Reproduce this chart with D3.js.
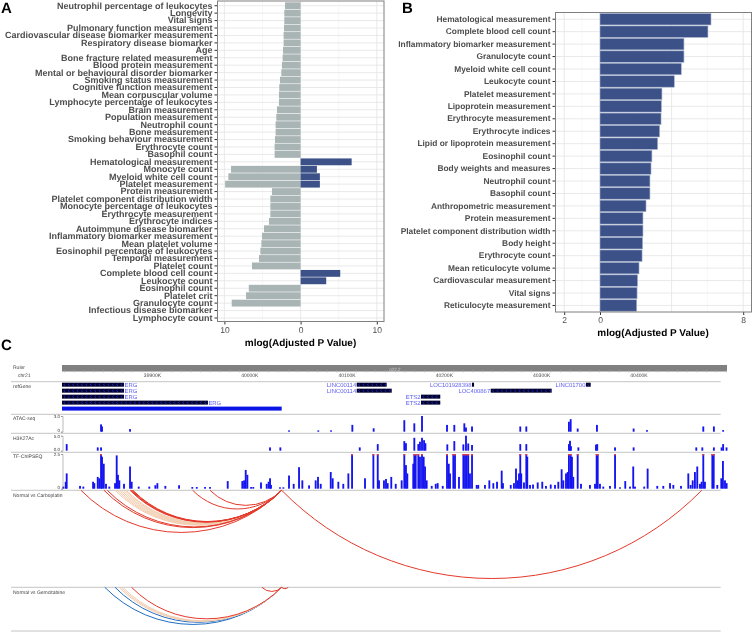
<!DOCTYPE html>
<html>
<head>
<meta charset="utf-8">
<script src="https://cdn.jsdelivr.net/npm/d3@7"></script>
<style>
  html, body { margin: 0; padding: 0; background: #fff; }
  text { font-family: "Liberation Sans", Arial, sans-serif; text-rendering: geometricPrecision; }
  svg { filter: blur(0.35px); }
</style>
</head>
<body>
<div id="chart"></div>
<script>
// Panel A
const termsA = ['Neutrophil percentage of leukocytes', 'Longevity', 'Vital signs', 'Pulmonary function measurement',
  'Cardiovascular disease biomarker measurement', 'Respiratory disease biomarker', 'Age', 'Bone fracture related measurement',
  'Blood protein measurement', 'Mental or behavioural disorder biomarker', 'Smoking status measurement', 'Cognitive function measurement',
  'Mean corpuscular volume', 'Lymphocyte percentage of leukocytes', 'Brain measurement', 'Population measurement', 'Neutrophil count',
  'Bone measurement', 'Smoking behaviour measurement', 'Erythrocyte count', 'Basophil count', 'Hematological measurement',
  'Monocyte count', 'Myeloid white cell count', 'Platelet measurement', 'Protein measurement', 'Platelet component distribution width',
  'Monocyte percentage of leukocytes', 'Erythrocyte measurement', 'Erythrocyte indices', 'Autoimmune disease biomarker',
  'Inflammatory biomarker measurement', 'Mean platelet volume', 'Eosinophil percentage of leukocytes', 'Temporal measurement',
  'Platelet count', 'Complete blood cell count', 'Leukocyte count', 'Eosinophil count', 'Platelet crit', 'Granulocyte count',
  'Infectious disease biomarker', 'Lymphocyte count'];
const downA = [2.05, 2.14, 2.14, 2.18, 2.23, 2.23, 2.31, 2.36, 2.45, 2.53, 2.7, 2.8, 2.84, 2.84, 3.1, 3.19, 3.28, 3.28, 3.36, 3.41, 3.41,
  0, 9.13, 9.48, 9.9, 3.76, 3.97, 3.97, 3.97, 4.15, 4.8, 5.07, 5.15, 5.28, 5.46, 6.38, 0, 0, 6.8, 7.16, 9.04, 0, 0];
const upA = [0, 0, 0, 0, 0, 0, 0, 0, 0, 0, 0, 0, 0, 0, 0, 0, 0, 0, 0, 0, 0,
  6.7, 2.14, 2.53, 2.53, 0, 0, 0, 0, 0, 0, 0, 0, 0, 0, 0, 5.2, 3.36, 0, 0, 0, 0, 0];

// Panel B
const termsB = ['Hematological measurement', 'Complete blood cell count', 'Inflammatory biomarker measurement', 'Granulocyte count',
  'Myeloid white cell count', 'Leukocyte count', 'Platelet measurement', 'Lipoprotein measurement', 'Erythrocyte measurement',
  'Erythrocyte indices', 'Lipid or lipoprotein measurement', 'Eosinophil count', 'Body weights and measures', 'Neutrophil count',
  'Basophil count', 'Anthropometric measurement', 'Protein measurement', 'Platelet component distribution width', 'Body height',
  'Erythrocyte count', 'Mean reticulocyte volume', 'Cardiovascular measurement', 'Vital signs', 'Reticulocyte measurement'];
const valuesB = [6.2, 6.03, 4.69, 4.69, 4.54, 4.15, 3.46, 3.43, 3.41, 3.33, 3.22, 2.9, 2.85, 2.79, 2.79, 2.57, 2.4, 2.4, 2.38, 2.35, 2.18, 2.1, 2.07, 2.05];

// Panel C, positions in kb on chr21
const geneNames = ['ERG', 'ERG', 'ERG', 'ERG', '', 'LINC00114', 'LINC00114', 'ETS2', 'ETS2', 'LOC101928398', 'LOC400867', 'LINC01700'];
const geneStarts = [39807.5, 39807.5, 39807.5, 39807.5, 39807.5, 40110.4, 40110.4, 40176.5, 40176.5, 40228.9, 40248.1, 40346];
const geneEnds = [39871.2, 39871.2, 39871.2, 39957.5, 40033.3, 40141.2, 40146.4, 40196.3, 40196.3, 40231, 40310.8, 40350.9];
const geneRows = [0, 1, 2, 3, 4, 0, 1, 2, 3, 0, 1, 0];

const atacPos = [39847.6, 39848.6, 39877.4, 40040.8, 40070.9, 40084, 40105.9, 40127.8, 40159.3, 40169.6, 40177.5, 40203.2, 40210.7, 40221,
  40222.7, 40228.9, 40278.5, 40284.7, 40328.5, 40330.3, 40337.5, 40357.3, 40395, 40408.7, 40466.6, 40477.5, 40487];
const atacVal = [1.4, 1, 0.5, 0.25, 0.25, 0.25, 1.3, 0.65, 2.2, 1.6, 3, 1.3, 1.3, 1.6, 0.8, 1, 1, 1, 1.9, 2.4, 0.6, 1.3, 0.6, 0.3, 1, 1, 0.3];

const h3k27Pos = [39812.3, 39844.2, 39847.6, 40021.3, 40031.9, 40113.5, 40132, 40159.3, 40161, 40169.6, 40173.7, 40175.4, 40177.5, 40179.6,
  40181, 40203.5, 40210.7, 40220, 40222.7, 40225, 40228.9, 40278.5, 40284.7, 40328.5, 40329.6, 40330.6, 40338.2, 40356.3, 40357.6, 40375.9,
  40395, 40459.4, 40465.6, 40477.5, 40485.4, 40487, 40490.5];
const h3k27Val = [2.2, 1.1, 1.1, 1.1, 1.1, 1.1, 2.2, 3.2, 2.5, 4.3, 2.2, 3, 4.3, 3.5, 2.5, 2.1, 3.2, 2.1, 5, 2.4, 1.9, 2.2, 2.2, 2.2, 3.3, 1.5,
  1.1, 2, 2.2, 1.1, 1.1, 1.1, 1.1, 1.1, 1.1, 2.2, 1.1];

const chipPos = [39808.9, 39811.3, 39812.3, 39826, 39829.4, 39839.4, 39840.7, 39844.2, 39845.8, 39847.6, 39848.6, 39850.4, 39852.7, 39856.1,
  39862, 39863.7, 39865, 39866.4, 39871.2, 39877.4, 39879.1, 39886.3, 39897.2, 39903.4, 39905.5, 39913.7, 39927.8, 39941.4, 39946, 39954.5,
  39959.6, 39977.8, 39992.8, 39994.6, 39996.3, 39998, 40001.8, 40004.1, 40012, 40017.9, 40019.9, 40021.3, 40022.3, 40031.5, 40035, 40040.8,
  40045.6, 40051.1, 40054.5, 40061.4, 40068.2, 40070.6, 40073.4, 40083.7, 40085.7, 40091.5, 40096.6, 40101.8, 40105.6, 40118.9, 40127.5,
  40132, 40133.3, 40138.4, 40140.5, 40142.2, 40145.9, 40150.5, 40156.6, 40159.3, 40161, 40162.4, 40168.5, 40169.6, 40171, 40173.7, 40175.4,
  40177.5, 40179.2, 40180.6, 40182.3, 40187.5, 40191.6, 40193.6, 40198.8, 40203.2, 40205, 40206.3, 40209.7, 40211.4, 40215.5, 40220, 40221.7,
  40223.4, 40225, 40226.8, 40228.9, 40233.7, 40235.3, 40242.2, 40246.7, 40250.8, 40254.6, 40259.4, 40260.7, 40268.7, 40272, 40274.1, 40275.8,
  40277.2, 40278.5, 40279.5, 40282.3, 40284.7, 40285.7, 40288.5, 40291.6, 40296.4, 40301.1, 40304.9, 40309.8, 40314.2, 40317.6, 40321,
  40322.7, 40325.5, 40327.2, 40328.5, 40330.3, 40331.6, 40333, 40337.5, 40340.9, 40350.1, 40355.3, 40357, 40358.1, 40360.4, 40363.8, 40370.7,
  40375.9, 40381, 40386.4, 40391.3, 40394.6, 40396.4, 40405.9, 40409.4, 40419.3, 40425.5, 40432.4, 40435.8, 40443.7, 40451.2, 40453.6,
  40455.7, 40458, 40460.4, 40463.2, 40464.9, 40466.6, 40468.3, 40475.9, 40477.3, 40481, 40485.1, 40486.8, 40488.9, 40490.6];
const chipVal = [0.15, 0.5, 1.1, 0.2, 0.15, 0.5, 0.4, 0.85, 0.75, 2.5, 2.3, 1.8, 0.35, 0.15,
  0.4, 2.4, 1, 0.6, 0.35, 1.6, 0.5, 0.15, 0.15, 0.25, 0.4, 0.2, 0.25, 0.12, 0.12, 0.12,
  0.12, 0.55, 0.55, 0.6, 1.35, 1, 0.12, 0.12, 0.45, 0.35, 0.5, 0.75, 0.27, 0.1, 0.1, 0.95,
  0.35, 1.55, 0.6, 0.24, 0.6, 0.85, 0.35, 1.2, 0.75, 0.5, 0.35, 1.1, 2.5, 0.75, 2.5,
  2.5, 0.6, 0.6, 0.7, 0.4, 0.85, 0.35, 0.6, 2.5, 1.7, 1.1, 1.8, 2.5, 2.5, 2.5, 2.3,
  2.5, 2.3, 1.6, 0.6, 0.2, 0.35, 0.4, 0.2, 2.5, 1.8, 1.1, 2.5, 2.5, 0.85, 2.5, 2.5,
  2.5, 2.5, 1.1, 2.5, 0.27, 0.27, 0.27, 0.6, 0.4, 0.5, 1.3, 0.4, 0.27, 0.4, 1.45, 0.6,
  1.1, 2.5, 1.1, 0.45, 2.5, 2.3, 0.27, 0.3, 0.45, 0.5, 0.2, 0.3, 0.27, 0.5, 1.4,
  0.6, 1.1, 1.2, 2.5, 2.5, 2.3, 0.85, 2.5, 0.35, 0.27, 0.35, 2.5, 2.5, 0.35, 0.15, 0.2,
  2.5, 0.1, 0.55, 0.15, 1.6, 0.15, 0.15, 1.45, 0.2, 0.2, 0.4, 0.27, 0.2, 1.1, 0.27,
  0.6, 1.2, 1.6, 0.35, 0.5, 2.5, 0.5, 2.5, 2.5, 0.27, 0.75, 2, 0.6, 0.4];

// arcs: left end, right end, score (above 0.5 red, below 0.5 tan, negative blue)
const carboFrom = [39827, 39850.7, 39854, 39862, 39864, 39866, 39868, 39870, 39872, 39873.5, 39877.4, 39878.4, 39879.4, 39880.4, 39941.8, 39959.6, 40033.3];
const carboTo = [40033.3, 40033.3, 40033.3, 40033.3, 40033.3, 40033.3, 40033.3, 40033.3, 40033.3, 40033.3, 40033.3, 40033.3, 40033.3, 40033.3, 40033.3, 40033.3, 40465];
const carboScore = [1, 1, 1, 0.3, 0.3, 0.3, 0.3, 0.3, 0.3, 0.3, 1, 1, 1, 1, 1, 1, 1];
const gemFrom = [39851.5, 39862, 39866, 39868, 39870, 39879, 40013, 40033.3];
const gemTo = [40033.3, 40033.3, 40033.3, 40033.3, 40033.3, 40033.3, 40033.3, 40040];
const gemScore = [-1, -1, 0.3, 0.3, 0.3, 1, 1, 1];

const margin = { a: { left: 217.5, right: 384, top: 1, bottom: 321.5 }, b: { left: 555.5, right: 751.5, top: 12.5, bottom: 312 } };
const red = '#e4392a', tan = '#f2cdb0', blue = '#1e6cc0', navy = '#3b5188', grey = '#a9b4b5';

const svg = d3.select('#chart').append('svg').attr('width', 753).attr('height', 633).style('display', 'block');

function letter(t, x, y) {
  svg.append('text').attr('x', x).attr('y', y).attr('font-size', 15).attr('font-weight', 'bold').attr('fill', '#000').text(t);
}
letter('A', 1, 13);
letter('B', 402, 13);
letter('C', 1, 350);

// shared ggplot style frame for the two bar charts
function frame(m, x, y, terms, majors, minors, labelled, fontSize) {
  const g = svg.append('g');
  g.selectAll('.minor').data(minors).join('line')
    .attr('x1', d => x(d)).attr('x2', d => x(d)).attr('y1', m.top).attr('y2', m.bottom)
    .attr('stroke', '#f2f2f2').attr('stroke-width', 0.6);
  g.selectAll('.major').data(majors).join('line')
    .attr('x1', d => x(d)).attr('x2', d => x(d)).attr('y1', m.top).attr('y2', m.bottom)
    .attr('stroke', '#e6e6e6').attr('stroke-width', 0.9);
  g.selectAll('.row').data(terms).join('line')
    .attr('x1', m.left).attr('x2', m.right)
    .attr('y1', d => y(d) + y.bandwidth() / 2).attr('y2', d => y(d) + y.bandwidth() / 2)
    .attr('stroke', '#e6e6e6').attr('stroke-width', 0.9);

  const left = svg.append('g').attr('transform', `translate(${m.left},0)`).call(d3.axisLeft(y).tickSize(3).tickPadding(2));
  left.select('.domain').remove();
  left.selectAll('line').attr('stroke', '#333');
  left.selectAll('text').attr('font-size', fontSize).attr('font-weight', 'bold').attr('fill', '#4d4d4d')
    .attr('font-family', '"Liberation Sans", Arial, sans-serif');

  const bottom = svg.append('g').attr('transform', `translate(0,${m.bottom})`)
    .call(d3.axisBottom(x).tickValues(labelled).tickFormat(d => Math.abs(d)).tickSize(3).tickPadding(2));
  bottom.select('.domain').remove();
  bottom.selectAll('line').attr('stroke', '#333');
  bottom.selectAll('text').attr('font-size', 8.5).attr('fill', '#4d4d4d')
    .attr('font-family', '"Liberation Sans", Arial, sans-serif');
}

function border(m) {
  svg.append('rect').attr('x', m.left).attr('y', m.top).attr('width', m.right - m.left).attr('height', m.bottom - m.top)
    .attr('fill', 'none').attr('stroke', '#7f7f7f').attr('stroke-width', 1);
}

function axisTitle(x, y) {
  svg.append('text').attr('x', x).attr('y', y).attr('text-anchor', 'middle')
    .attr('font-size', 10).attr('font-weight', 'bold').attr('fill', '#000').text('mlog(Adjusted P Value)');
}

// Panel A chart
const xA = d3.scaleLinear().domain([-10, 10]).range([224.4, 376.8]);
const yA = d3.scaleBand().domain(termsA).range([2.3, 321.4]).paddingInner(0.08);
frame(margin.a, xA, yA, termsA, [-10, 0, 10], [-5, 5], [-10, 0, 10], 9);
svg.append('g').selectAll('rect').data(termsA).join('rect')
  .attr('x', (d, i) => xA(-downA[i])).attr('y', d => yA(d))
  .attr('width', (d, i) => xA(0) - xA(-downA[i])).attr('height', yA.bandwidth())
  .attr('fill', grey);
svg.append('g').selectAll('rect').data(termsA).join('rect')
  .attr('x', xA(0)).attr('y', d => yA(d))
  .attr('width', (d, i) => xA(upA[i]) - xA(0)).attr('height', yA.bandwidth())
  .attr('fill', navy);
border(margin.a);
axisTitle(300.5, 346);

// Panel B chart
const xB = d3.scaleLinear().domain([-2, 8]).range([564.2, 743.2]);
const yB = d3.scaleBand().domain(termsB).range([13.5, 311.2]).paddingInner(0.08);
frame(margin.b, xB, yB, termsB, [-2, 0, 4, 8], [-1, 2, 6], [-2, 0, 8], 8.4);
svg.append('g').selectAll('rect').data(termsB).join('rect')
  .attr('x', xB(0)).attr('y', d => yB(d))
  .attr('width', (d, i) => xB(valuesB[i]) - xB(0)).attr('height', yB.bandwidth())
  .attr('fill', navy).attr('stroke', '#a5b1cb').attr('stroke-width', 0.6);
border(margin.b);
axisTitle(653, 335.5);

// Panel C, browser view
const xC = d3.scaleLinear().domain([39807.5, 40491]).range([62, 727]);
const smallText = (t, x, y, anchor) => svg.append('text').attr('x', x).attr('y', y).attr('font-size', 5)
  .attr('text-anchor', anchor || 'start').attr('fill', '#444').text(t);

[381.7, 414.3, 433.3, 452.3, 490.3, 587.3, 631].forEach(y => {
  svg.append('line').attr('x1', 11).attr('x2', 720.7).attr('y1', y).attr('y2', y).attr('stroke', '#b5b5b5').attr('stroke-width', 0.8);
});

// ruler
svg.append('rect').attr('x', xC(39807.5)).attr('y', 365).attr('width', xC(40491) - xC(39807.5)).attr('height', 6.5).attr('fill', '#808080');
const ruler10 = d3.range(39810, 40491, 10);
svg.append('g').selectAll('line').data(ruler10).join('line')
  .attr('x1', d => xC(d)).attr('x2', d => xC(d)).attr('y1', 370).attr('y2', 372.5)
  .attr('stroke', '#aaa').attr('stroke-width', 0.5);
const rulerAxis = svg.append('g').attr('transform', 'translate(0,371.5)')
  .call(d3.axisBottom(xC).tickValues(d3.range(39900, 40401, 100)).tickFormat(d => d + 'K').tickSize(0).tickPadding(2));
rulerAxis.select('.domain').remove();
rulerAxis.selectAll('text').attr('font-size', 5).attr('fill', '#444').attr('font-family', '"Liberation Sans", Arial, sans-serif');
svg.append('text').attr('x', 395).attr('y', 370.5).attr('font-size', 4.5).attr('text-anchor', 'middle').attr('fill', '#c8c8c8').text('q22.2');
smallText('Ruler', 13, 369);
smallText('chr21', 18, 376.5);
smallText('refGene', 13, 388);
smallText('ATAC-seq', 13, 420);
smallText('H3K27Ac', 13, 439.5);
smallText('TF-ChIPSEQ', 13, 458);
smallText('Normal vs Carboplatin', 13, 497);
smallText('Normal vs Gemcitabine', 13, 593.5);

// genes
const yGene = d3.scaleLinear().domain([0, 4]).range([384.7, 408.6]);
geneNames.forEach((name, i) => {
  const g = svg.append('g');
  const x0 = xC(geneStarts[i]), x1 = xC(geneEnds[i]), y = yGene(geneRows[i]);
  g.append('rect').attr('x', x0).attr('y', y - 2).attr('width', x1 - x0).attr('height', 4)
    .attr('fill', name ? '#00002a' : '#0a14e6');
  if (name) {
    g.selectAll('path').data(d3.range(x0 + 2, x1 - 1, 4.4)).join('path')
      .attr('d', d => `M${d + 1},${y - 1.2}L${d},${y}L${d + 1},${y + 1.2}`)
      .attr('fill', 'none').attr('stroke', '#2a35ff').attr('stroke-width', 0.7);
    const right = name === 'ERG';
    g.append('text').attr('x', right ? x1 + 0.5 : x0 - 0.5).attr('y', y + 2.2)
      .attr('text-anchor', right ? 'start' : 'end').attr('font-size', 5.9).attr('fill', '#5a5af0').text(name);
  }
});

// signal tracks
function track(pos, val, maxV, top, base, topLabel, lowLabel, caps) {
  const y = d3.scaleLinear().domain([0, maxV]).range([base, top]);
  const binKb = 1.9;
  svg.append('g').selectAll('rect').data(pos).join('rect')
    .attr('x', d => xC(d) - 0.9).attr('width', d => xC(d + binKb) - xC(d))
    .attr('y', (d, i) => y(val[i])).attr('height', (d, i) => base - y(val[i]))
    .attr('fill', '#1414f0');
  if (caps) {
    svg.append('g').selectAll('rect').data(pos.filter((d, i) => val[i] >= maxV)).join('rect')
      .attr('x', d => xC(d) - 0.9).attr('width', d => xC(d + binKb) - xC(d))
      .attr('y', top).attr('height', 1.4).attr('fill', '#f04040');
  }
  const axis = svg.append('g').attr('transform', 'translate(62.5,0)')
    .call(d3.axisLeft(y).tickValues([0, maxV]).tickFormat((d, i) => i ? topLabel : lowLabel).tickSize(1.5).tickPadding(1));
  axis.select('.domain').attr('stroke', '#777').attr('stroke-width', 0.5);
  axis.selectAll('line').attr('stroke', '#777').attr('stroke-width', 0.5);
  axis.selectAll('text').attr('font-size', 4.5).attr('fill', '#444').attr('font-family', '"Liberation Sans", Arial, sans-serif');
  // the low label sits a little above the baseline
  axis.selectAll('.tick text').filter(d => d === 0).attr('y', -2);
}
track(atacPos, atacVal, 3, 416, 431.7, '3.0', '0');
track(h3k27Pos, h3k27Val, 5, 435.7, 450.7, '5.0', '0.0');
track(chipPos, chipVal, 2.5, 454, 488.7, '2.5', '0', true);

// arcs: circular segments hanging from the top of each panel
const sagRatio = 0.21;
function arcs(from, to, score, top) {
  const colour = s => (s < 0 ? blue : s < 0.5 ? tan : red);
  const order = d3.range(from.length).sort((a, b) => score[a] - score[b]);
  svg.append('g').selectAll('path').data(order).join('path')
    .attr('d', i => {
      const x0 = xC(from[i]), x1 = xC(to[i]);
      const span = x1 - x0, sag = span * sagRatio;
      const r = (span * span / 4 + sag * sag) / (2 * sag);
      return `M${x0},${top}A${r},${r} 0 0 0 ${x1},${top}`;
    })
    .attr('fill', 'none').attr('stroke', i => colour(score[i])).attr('stroke-width', 1);
}
arcs(carboFrom, carboTo, carboScore, 490.3);
arcs(gemFrom, gemTo, gemScore, 587.3);
</script>
</body>
</html>
